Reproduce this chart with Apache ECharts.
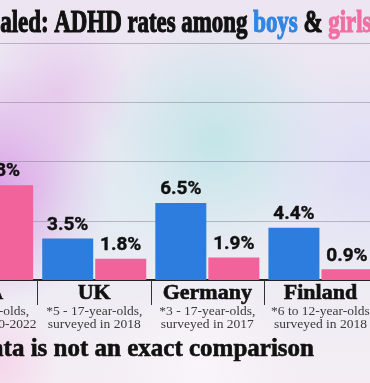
<!DOCTYPE html>
<html>
<head>
<meta charset="utf-8">
<script src="https://cdn.jsdelivr.net/npm/echarts@6/dist/echarts.min.js"></script>
<style>
html,body{margin:0;padding:0;background:#ece6f0;overflow:hidden;}
#wrap{position:relative;width:370px;height:383px;overflow:hidden;}
#c{position:absolute;left:-77px;top:0;width:454px;height:383px;}
</style>
</head>
<body>
<div id="wrap"><div id="c"></div></div>
<script>
const categories = ['USA', 'UK', 'Germany', 'Finland'];
const notes = [
  ['*3 - 17-year-olds,', 'surveyed 2020-2022'],
  ['*5 - 17-year-olds,', 'surveyed in 2018'],
  ['*3 - 17-year-olds,', 'surveyed in 2017'],
  ['*6 to 12-year-olds', 'surveyed in 2018']
];
const boys = [15, 3.5, 6.5, 4.4];
const girls = [8, 1.8, 1.9, 0.9];
const yTicks = [0, 5, 10, 15, 20];

const BLUE = '#2d7ddf';
const PINK = '#f2629b';
const OX = 77; // the chart canvas starts 77px left of the visible frame

const chart = echarts.init(document.getElementById('c'), null, {renderer: 'canvas'});

function radial(cx, cy, r, color) {
  return {
    type: 'circle', z: -10, silent: true,
    shape: {cx: cx + OX, cy: cy, r: r},
    style: {
      fill: new echarts.graphic.RadialGradient(0.5, 0.5, 0.5, [
        {offset: 0, color: color},
        {offset: 1, color: color.replace(/[\d.]+\)$/, '0)')}
      ])
    }
  };
}

const labelFormatter = p => p.value + '%';
const barLabel = {
  show: true, position: 'top', distance: 4, formatter: labelFormatter,
  fontFamily: 'Roboto', fontWeight: 'bold', fontSize: 19, color: '#111',
  textBorderColor: '#111', textBorderWidth: 0.4
};

function titleRun(color) {
  return {fontFamily: 'Liberation Serif', fontWeight: 'bold', fontSize: 32, fill: color, stroke: color, lineWidth: 1.2};
}

const option = {
  animation: false,
  backgroundColor: new echarts.graphic.LinearGradient(0, 0, 0, 1, [
    {offset: 0, color: '#ede5f1'},
    {offset: 0.5, color: '#e8eaf3'},
    {offset: 1, color: '#f4eef4'}
  ]),
  graphic: [
    radial(-5, 185, 120, 'rgba(218,155,228,0.9)'),
    radial(60, 90, 75, 'rgba(228,185,234,0.6)'),
    radial(215, 140, 120, 'rgba(178,228,228,0.7)'),
    radial(120, 210, 80, 'rgba(222,236,242,0.6)'),
    radial(365, 170, 110, 'rgba(218,216,246,0.7)'),
    radial(0, 365, 60, 'rgba(246,208,232,0.8)'),
    radial(200, 365, 95, 'rgba(251,247,251,0.75)'),
    {
      type: 'text', x: OX - 48, y: 24, scaleX: 0.715, z: 10,
      style: {
        text: '{k|Revealed: ADHD rates among }{b|boys}{k| & }{g|girls}',
        verticalAlign: 'middle',
        rich: {k: titleRun('#111'), b: titleRun('#2f85e2'), g: titleRun('#f06fa2')}
      }
    },
    {
      type: 'text', x: OX + 314, y: 350, z: 10,
      style: {
        text: '*Data is not an exact comparison',
        align: 'right', verticalAlign: 'middle',
        fontFamily: 'Liberation Serif', fontWeight: 'bold', fontSize: 25, fill: '#111',
        stroke: '#111', lineWidth: 0.6
      }
    }
  ],
  grid: {left: 0, right: 0, top: 43, bottom: 103, containLabel: false},
  xAxis: {
    type: 'category',
    data: categories,
    axisLine: {show: true, lineStyle: {color: '#222', width: 2}},
    axisTick: {show: true, length: 25, lineStyle: {color: '#333', width: 1}},
    axisLabel: {
      margin: 2,
      interval: 0,
      formatter: function (v, i) {
        return '{n|' + v + '}\n{s|' + notes[i][0] + '}\n{s|' + notes[i][1] + '}';
      },
      rich: {
        n: {fontFamily: 'Liberation Serif', fontWeight: 'bold', fontSize: 22, color: '#111', lineHeight: 23, textBorderColor: '#111', textBorderWidth: 0.6},
        s: {fontFamily: 'Liberation Serif', fontSize: 13.5, color: '#3a3a3a', lineHeight: 13}
      }
    }
  },
  yAxis: {
    type: 'value', min: yTicks[0], max: yTicks[yTicks.length - 1], interval: 5,
    axisLine: {show: false}, axisTick: {show: false}, axisLabel: {show: false},
    splitLine: {show: true, lineStyle: {color: 'rgba(120,120,140,0.45)', width: 1}}
  },
  series: [
    {name: 'Boys', type: 'bar', data: boys, barWidth: 51, barGap: '4%', itemStyle: {color: BLUE}, label: barLabel},
    {name: 'Girls', type: 'bar', data: girls, barWidth: 51, itemStyle: {color: PINK}, label: barLabel}
  ]
};
chart.setOption(option);
</script>
</body>
</html>
